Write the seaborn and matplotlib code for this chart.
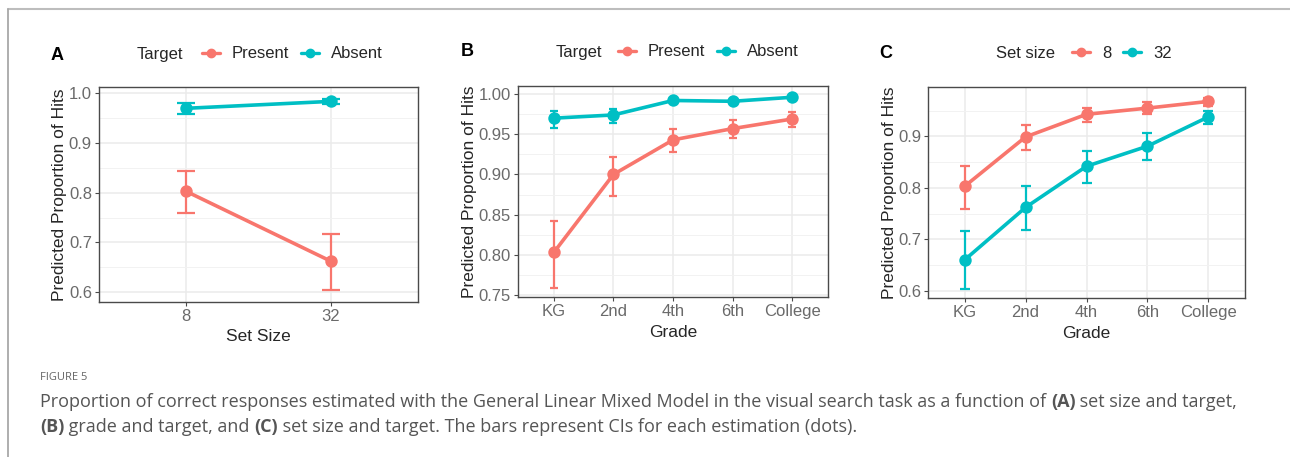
import numpy as np
import pandas as pd
import seaborn as sns
import matplotlib.pyplot as plt
from matplotlib.lines import Line2D
from matplotlib.ticker import MultipleLocator

# ---------------- data ----------------
set_sizes = ["8", "32"]
grades = ["KG", "2nd", "4th", "6th", "College"]

# panel A: set size x target
a_present = [0.803, 0.662]
a_present_lo = [0.760, 0.604]
a_present_hi = [0.843, 0.716]
a_absent = [0.970, 0.984]
a_absent_lo = [0.958, 0.979]
a_absent_hi = [0.980, 0.989]

# panel B: grade x target
b_present = [0.803, 0.900, 0.943, 0.957, 0.969]
b_present_lo = [0.759, 0.873, 0.928, 0.945, 0.959]
b_present_hi = [0.842, 0.922, 0.957, 0.968, 0.978]
b_absent = [0.970, 0.974, 0.992, 0.991, 0.996]
b_absent_lo = [0.958, 0.964, 0.990, 0.989, 0.995]
b_absent_hi = [0.979, 0.982, 0.994, 0.993, 0.997]

# panel C: grade x set size
c_8 = [0.803, 0.899, 0.943, 0.955, 0.968]
c_8_lo = [0.759, 0.874, 0.928, 0.944, 0.960]
c_8_hi = [0.842, 0.923, 0.956, 0.966, 0.975]
c_32 = [0.660, 0.762, 0.842, 0.881, 0.938]
c_32_lo = [0.604, 0.718, 0.810, 0.854, 0.924]
c_32_hi = [0.716, 0.803, 0.872, 0.906, 0.950]

RED = "#F8766D"
TEAL = "#00BFC4"

sns.set_theme(style="white")
plt.rcParams["font.family"] = ["Liberation Sans", "DejaVu Sans"]

fig = plt.figure(figsize=(12.9, 4.57), dpi=100)


def frame(df, xcol, groups):
    rows = []
    for name, (est, lo, hi) in groups.items():
        for i, x in enumerate(df):
            rows.append({xcol: x, "group": name, "est": est[i], "lo": lo[i], "hi": hi[i]})
    return pd.DataFrame(rows)


def panel(rect, data, xcol, order, hue_order, colors, capsize, yticks, ylim, fmt, xlabel):
    ax = fig.add_axes(rect)
    sns.pointplot(data=data, x=xcol, y="est", hue="group", order=order, hue_order=hue_order,
                  palette=colors, errorbar=None, markers="o", markersize=7, linewidth=2.6,
                  legend=False, ax=ax, zorder=3)
    pos = {c: i for i, c in enumerate(order)}
    for g, col in zip(hue_order, colors):
        sub = data[data["group"] == g]
        xs = sub[xcol].map(pos).to_numpy()
        ax.errorbar(xs, sub["est"], yerr=[sub["est"] - sub["lo"], sub["hi"] - sub["est"]],
                    fmt="none", ecolor=col, elinewidth=1.6, capsize=capsize, capthick=1.6, zorder=2)
    ax.set_xlim(-0.6, len(order) - 0.4)
    ax.set_ylim(*ylim)
    ax.set_yticks(yticks)
    ax.set_yticklabels([fmt.format(t) for t in yticks])
    step = yticks[1] - yticks[0]
    ax.yaxis.set_minor_locator(MultipleLocator(step / 2))
    ax.grid(True, which="major", color="#EBEBEB", linewidth=1.1, zorder=0)
    ax.grid(True, which="minor", axis="y", color="#F2F2F2", linewidth=0.7, zorder=0)
    ax.set_axisbelow(True)
    for s in ax.spines.values():
        s.set_color("#4a4a4a")
        s.set_linewidth(1.0)
    ax.tick_params(axis="both", which="major", length=3, width=0.8, color="#4a4a4a",
                   labelsize=12, labelcolor="#6a6a6a", pad=2, bottom=True, left=True)
    ax.tick_params(axis="y", which="minor", length=0)
    ax.set_xlabel(xlabel, fontsize=12.5, color="#262626", labelpad=4)
    ax.set_ylabel("Predicted Proportion of Hits", fontsize=12.5, color="#262626", labelpad=1)
    return ax


dfA = frame(set_sizes, "Set Size", {"Present": (a_present, a_present_lo, a_present_hi),
                                    "Absent": (a_absent, a_absent_lo, a_absent_hi)})
dfB = frame(grades, "Grade", {"Present": (b_present, b_present_lo, b_present_hi),
                              "Absent": (b_absent, b_absent_lo, b_absent_hi)})
dfC = frame(grades, "Grade", {"8": (c_8, c_8_lo, c_8_hi),
                              "32": (c_32, c_32_lo, c_32_hi)})

axA = panel([0.0767, 0.3392, 0.2473, 0.4705], dfA, "Set Size", set_sizes, ["Present", "Absent"],
            [RED, TEAL], 6.5, [0.6, 0.7, 0.8, 0.9, 1.0], (0.580, 1.013), "{:.1f}", "Set Size")
axB = panel([0.4016, 0.3501, 0.2403, 0.4617], dfB, "Grade", grades, ["Present", "Absent"],
            [RED, TEAL], 3.2, [0.75, 0.80, 0.85, 0.90, 0.95, 1.00], (0.7475, 1.010), "{:.2f}", "Grade")
axC = panel([0.7194, 0.3479, 0.2457, 0.4617], dfC, "Grade", grades, ["8", "32"],
            [RED, TEAL], 3.6, [0.6, 0.7, 0.8, 0.9], (0.586, 0.996), "{:.1f}", "Grade")


# legends on top (title to the left, like ggplot)
def top_legend(title, labels, tx, lx, y):
    W, H = 1290.0, 457.0
    fig.text(tx / W, 1 - y / H, title, fontsize=12, color="#262626", va="center", ha="left")
    handles = [Line2D([], [], color=c, marker="o", markersize=6, linewidth=2.4) for c in (RED, TEAL)]
    fig.legend(handles, labels, loc="center left", bbox_to_anchor=(lx / W, 1 - y / H),
               ncol=2, frameon=False, fontsize=12, handlelength=1.1, handletextpad=0.7,
               columnspacing=0.7, borderpad=0, borderaxespad=0, labelcolor="#262626")


top_legend("Target", ["Present", "Absent"], 137, 202, 54)
top_legend("Target", ["Present", "Absent"], 556, 618, 52)
top_legend("Set size", ["8", "32"], 996, 1072, 53)

for lab, x, y in [("A", 51, 55), ("B", 461, 52), ("C", 879, 53)]:
    fig.text(x / 1290, 1 - y / 457, lab, fontsize=13, fontweight="bold", color="black",
             va="center", ha="left")

# frame lines of the page
fig.add_artist(Line2D([7.5 / 1290, 1], [1 - 9 / 457, 1 - 9 / 457], color="#BDBDBD", linewidth=1.5))
fig.add_artist(Line2D([7.5 / 1290, 7.5 / 1290], [0, 1 - 9 / 457], color="#A8A8A8", linewidth=1.3))

# caption
fig.text(40 / 1290, 1 - 377 / 457, "FIGURE 5", fontsize=8, color="#666666", family="Open Sans",
         va="center", ha="left")

renderer = fig.canvas.get_renderer()
cap_size = 13
cap_col = "#555555"


def width_of(txt, bold):
    t = fig.text(0, 0, txt, fontsize=cap_size, family="Open Sans",
                 fontweight="bold" if bold else "normal")
    w = t.get_window_extent(renderer).width
    t.remove()
    return w


space_w = width_of("a a", False) - width_of("aa", False)


def rich_line(x, y, pieces):
    for txt, bold in pieces:
        core = txt.rstrip(" ")
        fig.text(x / 1290, 1 - y / 457, core, fontsize=cap_size, family="Open Sans",
                 fontweight="bold" if bold else "normal", color=cap_col, va="center", ha="left")
        x += width_of(core, bold)
        if txt.endswith(" "):
            x += space_w


rich_line(40, 402, [("Proportion of correct responses estimated with the General Linear Mixed Model "
                     "in the visual search task as a function of ", False), ("(A)", True),
                    (" set size and target,", False)])
rich_line(40, 427, [("(B)", True), (" grade and target, and ", False), ("(C)", True),
                    (" set size and target. The bars represent CIs for each estimation (dots).", False)])

fig.savefig("out.png", dpi=100)
